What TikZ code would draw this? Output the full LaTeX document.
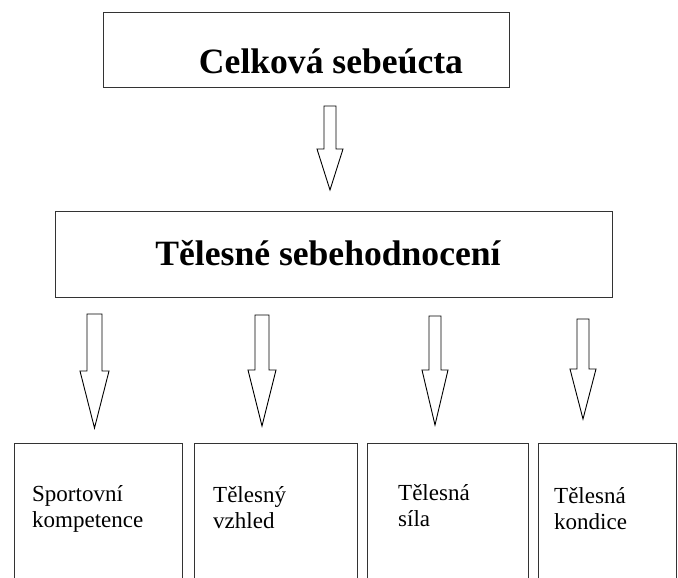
\documentclass[tikz,border=0pt]{standalone}
\usepackage{fontspec}
\setmainfont{Liberation Serif}
\usepackage{tikz}
\usetikzlibrary{positioning,calc}

\tikzset{
	box/.style={draw=black!80, line width=1.3pt, rectangle, inner sep=0pt, anchor=north west},
	title/.style={font=\fontsize{35.6}{42}\selectfont\bfseries, inner sep=0pt, anchor=base},
	lbl/.style={font=\fontsize{23}{26}\selectfont, align=left, inner sep=0pt, anchor=north west},
	hollow/.style={draw=black, line width=0.9pt, line join=miter, fill=white}
}
% top of shaft, half shaft width, shaft length, head length
\newcommand{\hollowarrow}[4]{%
	\draw[hollow] (#1) ++(-#2,0) -- ++(2*#2,0) -- ++(0,#3) -- ++(7,0)
		-- ++(-7-#2,#4) -- ++(-7-#2,-#4) -- ++(7,0) -- cycle;}

\begin{document}
\begin{tikzpicture}[x=1pt, y=-1pt]
		\useasboundingbox (0,0) rectangle (678,578);
		\clip (0,0) rectangle (678,578);
		% boxes
		\node[box, minimum width=406, minimum height=75] (self) at (103,12) {};
		\node[box, minimum width=557, minimum height=86] (body) at (55,211) {};
		\node[box, minimum width=168, minimum height=160] (sport) at (14,443) {};
		\node[box, minimum width=163, minimum height=160] (look) at (194,443) {};
		\node[box, minimum width=161, minimum height=160] (force) at (367,443) {};
		\node[box, minimum width=138, minimum height=160] (cond) at (538,443) {};
		% texts
		\node[title] (selft) at (331,74) {Celková sebeúcta};
		\node[title] (bodyt) at (328,265) {Tělesné sebehodnocení};
		\node[lbl] (sportt) at (32,485) {Sportovní\\kompetence};
		\node[lbl] (lookt) at (213,486) {Tělesný\\vzhled};
		\node[lbl] (forcet) at (398,484) {Tělesná\\síla};
		\node[lbl] (condt) at (554,487) {Tělesná\\kondice};
		% arrows
		\coordinate (a0) at (330,106);
		\coordinate (a1) at (94.5,314);
		\coordinate (a2) at (262,315);
		\coordinate (a3) at (435,316);
		\coordinate (a4) at (583,319);
		\hollowarrow{a0}{6}{43}{41}
		\hollowarrow{a1}{7.5}{57}{57}
		\hollowarrow{a2}{7}{55}{56}
		\hollowarrow{a3}{6}{54}{55}
		\hollowarrow{a4}{6}{50}{50}
\end{tikzpicture}
\end{document}
